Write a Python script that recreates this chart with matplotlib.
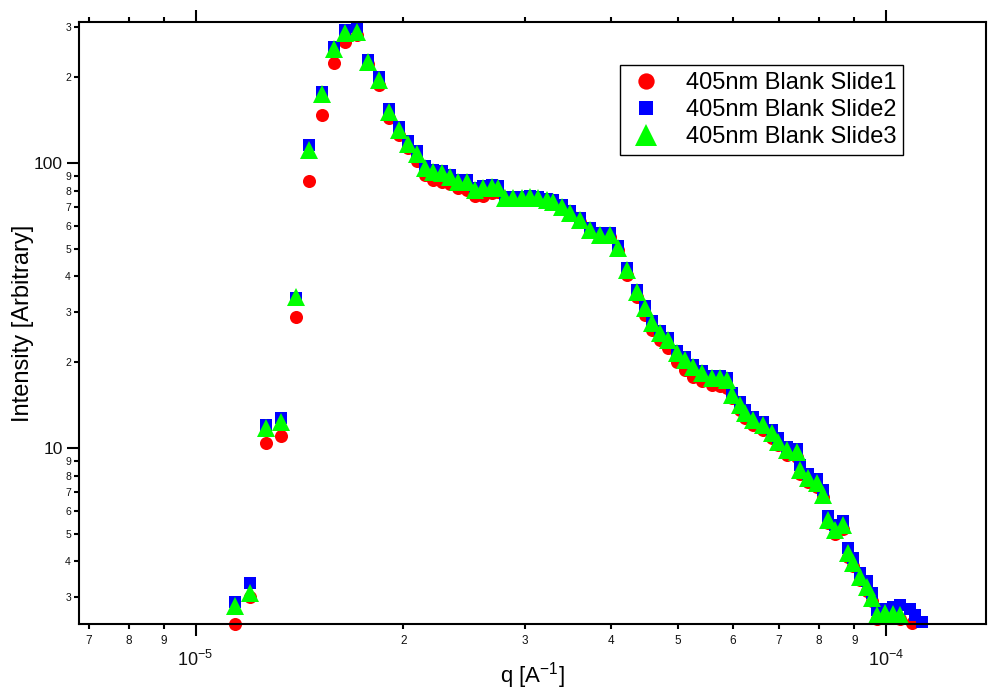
"""
Scattering curves of three blank slides measured at 405 nm.

Output:
  out.png  — log-log intensity vs q for Slide1, Slide2 and Slide3
"""

import matplotlib
matplotlib.use("Agg")
import matplotlib.pyplot as plt
import numpy as np
from matplotlib.ticker import FuncFormatter, LogFormatterMathtext, LogLocator

# ── Data ────────────────────────────────────────────────────────────
# q in units of 1e-5 A^-1 (shared grid), intensity in arbitrary units
Q_E5 = [
    1.139, 1.201, 1.267, 1.328, 1.396, 1.458, 1.523, 1.585, 1.644, 1.712,
    1.775, 1.842, 1.904, 1.969, 2.029, 2.091, 2.147, 2.205, 2.272, 2.334,
    2.397, 2.471, 2.537, 2.606, 2.685, 2.739, 2.804, 2.880, 2.968, 3.048,
    3.131, 3.226, 3.291, 3.391, 3.483, 3.601, 3.724, 3.850, 3.981, 4.089,
    4.214, 4.357, 4.474, 4.580, 4.704, 4.831, 4.978, 5.112, 5.251, 5.411,
    5.594, 5.746, 5.883, 5.982, 6.143, 6.247, 6.416, 6.634, 6.836, 6.975,
    7.187, 7.430, 7.506, 7.709, 7.943, 8.104, 8.240, 8.435, 8.664, 8.809,
    8.957, 9.170, 9.386, 9.544, 9.705, 9.968, 10.23, 10.48,
]

SLIDE1 = [
    2.41, 3.00, 10.4, 11.0, 28.8, 86.5, 147, 224, 266, 281,
    222, 188, 144, 125, 112.9, 101.6, 90.8, 87.2, 85.8, 84.4,
    81.7, 80.4, 76.6, 76.6, 78.5, 79.1, 75.0, 75.0, 75.0, 75.5,
    74.5, 73.5, 72.0, 69.0, 66.0, 62.0, 57.5, 55.0, 55.0, 49.5,
    40.5, 33.9, 29.3, 25.9, 23.9, 22.4, 20.0, 18.8, 17.7, 17.2,
    16.6, 16.5, 16.2, 15.0, 13.6, 12.7, 12.0, 11.6, 10.8, 10.2,
    9.45, 9.30, 8.10, 7.60, 7.30, 6.70, 5.45, 5.00, 5.20, 4.15,
    3.85, 3.45, 3.15, 2.90, 2.50, 2.55, 2.52, 2.50,
]

SLIDE2 = [
    2.88, 3.36, 12.05, 12.7, 33.6, 115.7, 177, 255, 293, 300,
    230, 200, 155, 134, 119, 110, 97.5, 94.5, 93.5, 90.5,
    87.0, 87.0, 81.5, 82.8, 83.5, 82.8, 76.2, 76.2, 76.2, 76.8,
    76.2, 75.0, 74.0, 71.0, 67.6, 64.0, 59.0, 56.6, 56.6, 51.0,
    42.7, 35.8, 31.5, 28.0, 25.8, 24.3, 21.9, 20.8, 19.6, 18.6,
    17.9, 17.9, 17.6, 15.6, 14.5, 13.6, 12.8, 12.3, 11.6, 10.8,
    10.1, 9.90, 8.70, 8.10, 7.80, 7.10, 5.75, 5.35, 5.55, 4.45,
    4.10, 3.65, 3.40, 3.10, 2.70, 2.73, 2.76, 2.82,
]

SLIDE3 = [
    2.79, 3.10, 11.75, 12.3, 33.9, 111, 175, 251, 286, 288,
    226, 195, 151, 131, 116.6, 107.5, 96.0, 93.0, 92.2, 89.3,
    85.8, 85.8, 80.4, 81.7, 82.4, 81.7, 75.4, 75.4, 75.4, 76.0,
    75.4, 74.2, 73.0, 70.1, 66.8, 63.1, 58.2, 55.9, 55.9, 50.3,
    42.1, 35.3, 31.0, 27.5, 25.3, 23.9, 21.5, 20.4, 19.2, 18.3,
    17.6, 17.6, 17.3, 15.3, 14.2, 13.3, 12.5, 12.0, 11.3, 10.5,
    9.85, 9.69, 8.38, 7.85, 7.54, 6.84, 5.59, 5.15, 5.38, 4.28,
    3.95, 3.53, 3.25, 2.98, 2.59, 2.64, 2.62, 2.59,
]

# points beyond the shared grid
Q_TAIL1_E5 = [10.91]
TAIL1 = [2.43]
Q_TAIL2_E5 = [10.83, 11.02, 11.28]
TAIL2 = [2.72, 2.60, 2.45]

LABELS = ["405nm Blank Slide1", "405nm Blank Slide2", "405nm Blank Slide3"]

plt.rcParams["font.family"] = ["Liberation Sans", "DejaVu Sans"]
plt.rcParams["mathtext.fontset"] = "custom"
plt.rcParams["mathtext.rm"] = "Liberation Sans"
plt.rcParams["mathtext.it"] = "Liberation Sans:italic"


def minor_digit(x, pos):
    """Leading digit of a minor tick (2..9)."""
    exp = np.floor(np.log10(x) + 1e-9)
    return f"{x / 10 ** exp:.0f}"


def main():
    q = np.array(Q_E5) * 1e-5
    q1 = np.concatenate([q, np.array(Q_TAIL1_E5) * 1e-5])
    i1 = np.concatenate([SLIDE1, TAIL1])
    q2 = np.concatenate([q, np.array(Q_TAIL2_E5) * 1e-5])
    i2 = np.concatenate([SLIDE2, TAIL2])
    q3 = q
    i3 = np.array(SLIDE3)

    fig = plt.figure(figsize=(9.88, 6.91), dpi=100)
    ax = fig.add_axes([79 / 988, 1 - 624 / 691, 907 / 988, 602 / 691])

    kw = dict(ls="none", mew=0, clip_on=False)
    ax.plot(q1, i1, marker="o", ms=9.4, color="#ff0000", label=LABELS[0], **kw)
    ax.plot(q2, i2, marker="s", ms=8.4, color="#0000ff", label=LABELS[1], **kw)
    ax.plot(q3, i3, marker="^", ms=12.3, color="#00ff00", label=LABELS[2], **kw)

    ax.set_xscale("log")
    ax.set_yscale("log")
    ax.set_xlim(6.78e-6, 1.396e-4)
    ax.set_ylim(2.41, 312.5)

    # ── Ticks ────────────────────────────────────────────────────────
    for axis in (ax.xaxis, ax.yaxis):
        axis.set_major_locator(LogLocator(base=10, numticks=10))
        axis.set_minor_locator(LogLocator(base=10, subs=np.arange(2, 10),
                                          numticks=20))
        axis.set_minor_formatter(FuncFormatter(minor_digit))
    ax.xaxis.set_major_formatter(LogFormatterMathtext())
    ax.yaxis.set_major_formatter(FuncFormatter(lambda v, p: f"{v:g}"))

    ax.tick_params(which="both", direction="out", top=True, right=False,
                   width=1.5, color="black", labelcolor="#111111")
    ax.tick_params(which="major", length=8.6)
    ax.tick_params(which="minor", length=3.8)
    ax.tick_params(axis="x", which="major", labelsize=13, pad=10)
    ax.tick_params(axis="x", which="minor", labelsize=8.5, pad=4)
    ax.tick_params(axis="y", which="major", labelsize=12.5, pad=3)
    ax.tick_params(axis="y", which="minor", labelsize=7.5, pad=2)

    for sp in ax.spines.values():
        sp.set_linewidth(1.5)

    ax.set_xlabel(r"q [A$^{\mathregular{-1}}$]", fontsize=16, labelpad=-7)
    ax.set_ylabel("Intensity [Arbitrary]", fontsize=17, labelpad=0)

    leg = ax.legend(loc="upper left", bbox_to_anchor=(0.596, 0.929),
                    fontsize=17, frameon=True, fancybox=False,
                    edgecolor="black", framealpha=1, markerscale=1.25,
                    handlelength=1.6, handletextpad=0.9, borderpad=0.3,
                    labelspacing=0.22, borderaxespad=0)
    leg.get_frame().set_linewidth(1.0)

    fig.savefig("out.png", dpi=100)
    plt.close(fig)


if __name__ == "__main__":
    main()
